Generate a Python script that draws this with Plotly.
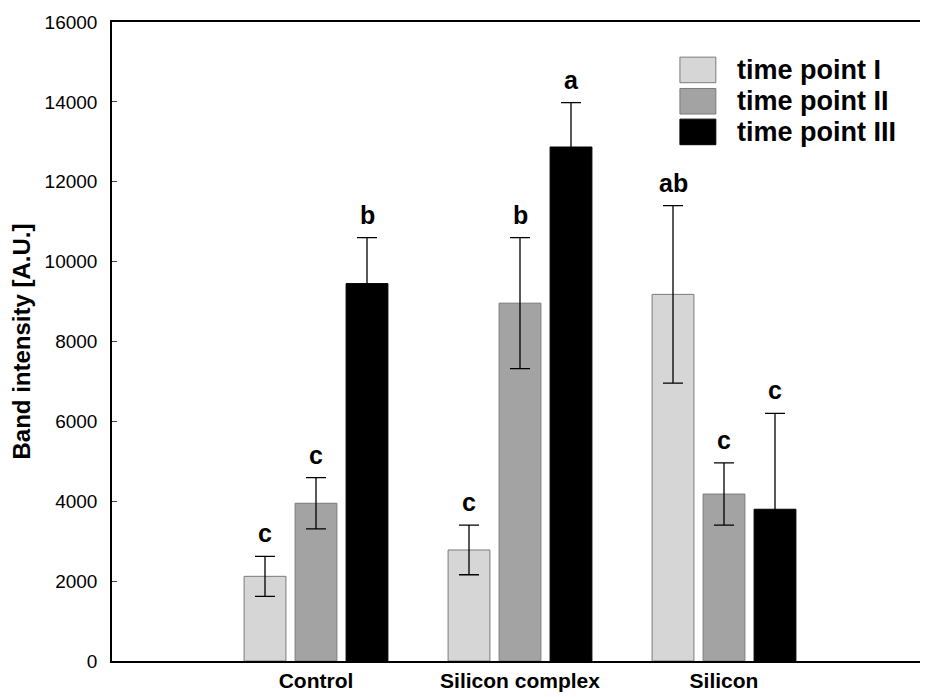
import plotly.graph_objects as go

categories = ["Control", "Silicon complex", "Silicon"]
series_names = ["time point I", "time point II", "time point III"]
t1 = [2120, 2780, 9180]
t2 = [3950, 8960, 4180]
t3 = [9450, 12870, 3800]
e1 = [500, 620, 2220]
e2 = [640, 1640, 780]
e3 = [1150, 1110, 2400]
letters1 = ["c", "c", "ab"]
letters2 = ["c", "b", "c"]
letters3 = ["b", "a", "c"]
colors = ["#d6d6d6", "#a3a3a3", "#000000"]
y_ticks = [0, 2000, 4000, 6000, 8000, 10000, 12000, 14000, 16000]
y_ticklabels = ["0", "2000", "4000", "6000", "8000", "10000", "12000", "14000", "16000"]

FONT = "Liberation Sans, Arial, sans-serif"
fig = go.Figure()
values = [t1, t2, t3]
errs = [e1, e2, e3]
letters = [letters1, letters2, letters3]
for k in range(3):
    fig.add_trace(go.Bar(
        x=categories, y=values[k], name=series_names[k],
        marker=dict(color=colors[k], line=dict(color="#7a7a7a" if k < 2 else "#000000", width=1)),
        error_y=dict(type="data", array=errs[k], visible=True, color="#000000", thickness=1.3, width=10),
        showlegend=False,
    ))

offset = 0.25
for k in range(3):
    for i in range(3):
        fig.add_annotation(
            x=i + (k - 1) * offset, y=values[k][i] + errs[k][i], xref="x", yref="y",
            text="<b>" + letters[k][i] + "</b>", showarrow=False, yshift=23,
            font=dict(family=FONT, size=25, color="#000"),
        )

# manual legend
leg_y = [0.925, 0.876, 0.828]
for k in range(3):
    fig.add_shape(type="rect", xref="paper", yref="paper",
                  x0=0.696, x1=0.740, y0=leg_y[k] - 0.02, y1=leg_y[k] + 0.02,
                  fillcolor=colors[k], line=dict(color="#7a7a7a" if k < 2 else "#000", width=1))
    fig.add_annotation(xref="paper", yref="paper", x=0.764, y=leg_y[k], xanchor="left", yanchor="middle",
                       text="<b>" + series_names[k] + "</b>", showarrow=False,
                       font=dict(family=FONT, size=27, color="#000"))

fig.update_layout(
    width=920, height=689,
    margin=dict(l=104, r=0, t=14, b=36),
    plot_bgcolor="white", paper_bgcolor="white",
    barmode="group", bargap=0.25, bargroupgap=0.18,
    font=dict(family=FONT, color="#000"),
    xaxis=dict(range=[-1, 3], showline=True, linecolor="#000", linewidth=1.5, mirror=True,
               ticks="", showgrid=False, tickfont=dict(family=FONT, size=21, color="#000"),
               tickprefix="<b>", ticksuffix="</b>"),
    yaxis=dict(range=[0, 16000], tickvals=y_ticks, ticktext=y_ticklabels, showline=True, linecolor="#000", linewidth=1.5,
               ticks="inside", ticklen=5, tickwidth=1.3, showgrid=False, zeroline=False,
               ticklabelstandoff=9,
               tickfont=dict(family=FONT, size=19, color="#000"),
               title=dict(text="<b>Band intensity [A.U.]</b>", font=dict(family=FONT, size=24, color="#000"), standoff=14)),
)
fig.write_html("out.html")
